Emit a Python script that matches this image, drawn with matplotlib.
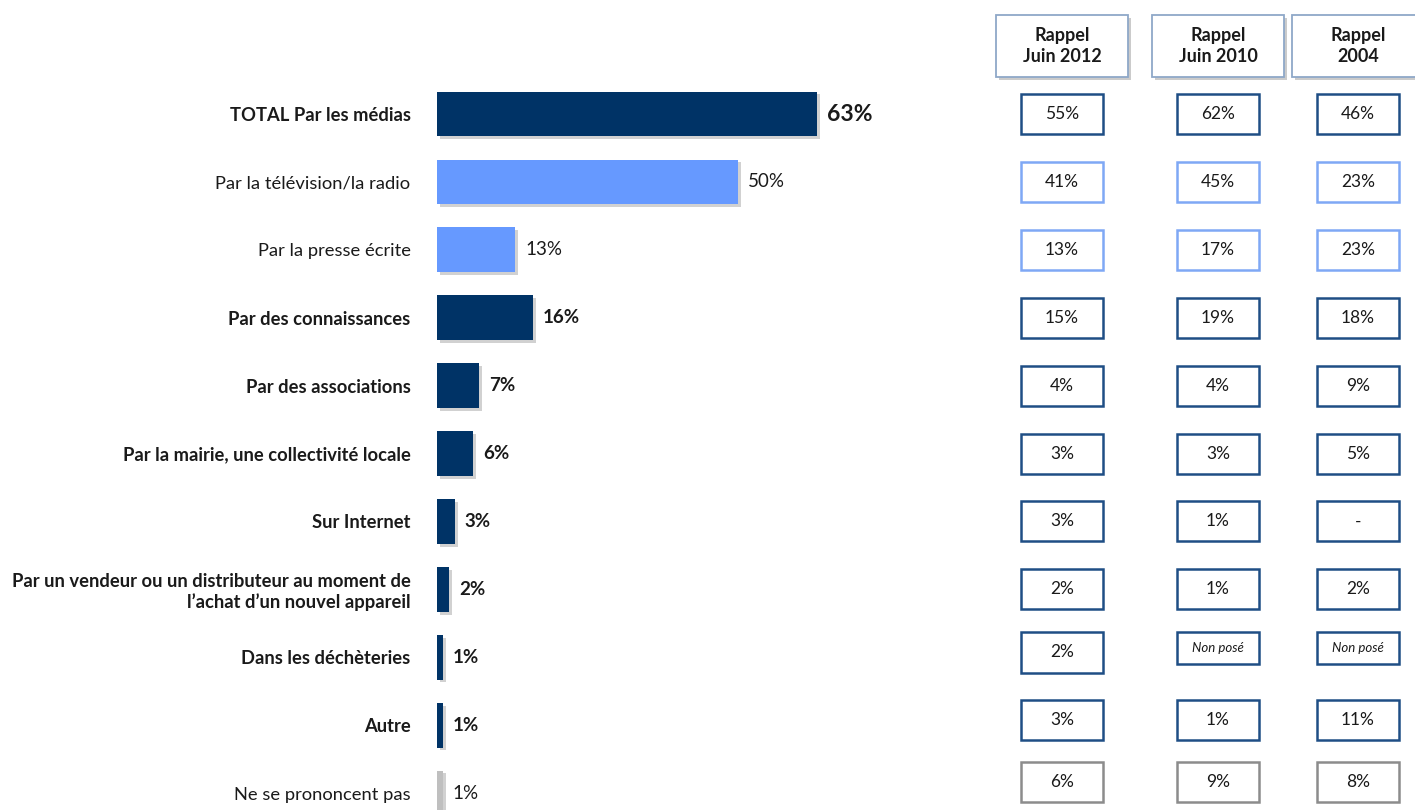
import matplotlib.pyplot as plt
import matplotlib.patheffects as pe
from matplotlib.patches import Rectangle

plt.rcParams['font.family'] = ['Lato', 'DejaVu Sans']

labels = [
    'TOTAL Par les médias',
    'Par la télévision/la radio',
    'Par la presse écrite',
    'Par des connaissances',
    'Par des associations',
    'Par la mairie, une collectivité locale',
    'Sur Internet',
    'Par un vendeur ou un distributeur au moment de\nl\u2019achat d\u2019un nouvel appareil',
    'Dans les déchèteries',
    'Autre',
    'Ne se prononcent pas',
]
values = [63, 50, 13, 16, 7, 6, 3, 2, 1, 1, 1]
# row style: 'main' (dark, bold), 'sub' (light blue), 'nsp' (grey)
kinds = ['main', 'sub', 'sub', 'main', 'main', 'main', 'main', 'main', 'main', 'main', 'nsp']

headers = ['Rappel\nJuin 2012', 'Rappel\nJuin 2010', 'Rappel\n2004']
rappel_2012 = ['55%', '41%', '13%', '15%', '4%', '3%', '3%', '2%', '2%', '3%', '6%']
rappel_2010 = ['62%', '45%', '17%', '19%', '4%', '3%', '1%', '1%', 'Non posé', '1%', '9%']
rappel_2004 = ['46%', '23%', '23%', '18%', '9%', '5%', '-', '2%', 'Non posé', '11%', '8%']

bar_colors = {'main': '#003366', 'sub': '#6699FF', 'nsp': '#BFBFBF'}
box_colors = {'main': '#1F4E85', 'sub': '#7FA8F5', 'nsp': '#8C8C8C'}

fig = plt.figure(figsize=(14.15, 8.1), dpi=100)
W, H = 1415, 810
ylim = (10.25, -1.68)

# bar chart
ax = fig.add_axes([437 / W, 0, 422 / W, 1])
rows = list(range(len(values)))
shadow = [pe.SimplePatchShadow(offset=(2, -2), shadow_rgbFace='#999999', alpha=0.45), pe.Normal()]
bars = ax.barh(rows, values, height=0.66, color=[bar_colors[k] for k in kinds])
for b in bars:
    b.set_path_effects(shadow)
ax.set_xlim(0, 70)
ax.set_ylim(*ylim)
ax.set_yticks(rows)
ax.set_yticklabels(labels, fontsize=13.2)
for t, k in zip(ax.get_yticklabels(), kinds):
    t.set_fontweight('bold' if k == 'main' else 'normal')
    t.set_color('#1a1a1a')
ax.tick_params(axis='y', length=0, pad=19)
ax.set_xticks([])
for s in ax.spines.values():
    s.set_visible(False)

for i, (v, k) in enumerate(zip(values, kinds)):
    size = 16.5 if i == 0 else 13.5
    ax.annotate(f'{v}%', (v, i), xytext=(7, 0), textcoords='offset points',
                va='center', ha='left', fontsize=size,
                fontweight='bold' if k == 'main' else 'normal', color='#1a1a1a')

# rappel columns
tx = fig.add_axes([990 / W, 0, 425 / W, 1])
tx.set_xlim(0, 425)
tx.set_ylim(*ylim)
tx.axis('off')
col_x = [72, 228, 368]
box_w, box_h = 82, 0.59
# small vertical nudges of the boxes relative to the bar rows
nudge = [0, 0, 0, 0, 0, 0, 0, 0, -0.07, -0.07, -0.16]

for cx, head in zip(col_x, headers):
    r = Rectangle((cx - 66, -1.0 - 0.455), 132, 0.91, facecolor='white',
                  edgecolor='#8FA8C8', linewidth=1.3)
    r.set_path_effects([pe.SimplePatchShadow(offset=(2, -2), shadow_rgbFace='#999999', alpha=0.5), pe.Normal()])
    tx.add_patch(r)
    tx.text(cx, -1.0, head, ha='center', va='center', fontsize=13,
            fontweight='bold', color='#1a1a1a', linespacing=1.3)

for cx, col in zip(col_x, [rappel_2012, rappel_2010, rappel_2004]):
    for i, (txt, k) in enumerate(zip(col, kinds)):
        yc = i + nudge[i]
        if txt == 'Non posé':
            h = 0.47
            y0 = yc - box_h / 2
            tx.add_patch(Rectangle((cx - box_w / 2, y0), box_w, h, facecolor='white',
                                   edgecolor=box_colors[k], linewidth=1.8))
            tx.text(cx, y0 + h / 2, txt, ha='center', va='center', fontsize=9.5,
                    fontstyle='italic', color='#1a1a1a')
        else:
            tx.add_patch(Rectangle((cx - box_w / 2, yc - box_h / 2), box_w, box_h,
                                   facecolor='white', edgecolor=box_colors[k], linewidth=1.8))
            tx.text(cx, yc, txt, ha='center', va='center', fontsize=12.5, color='#1a1a1a')

fig.savefig('out.png', dpi=100)
